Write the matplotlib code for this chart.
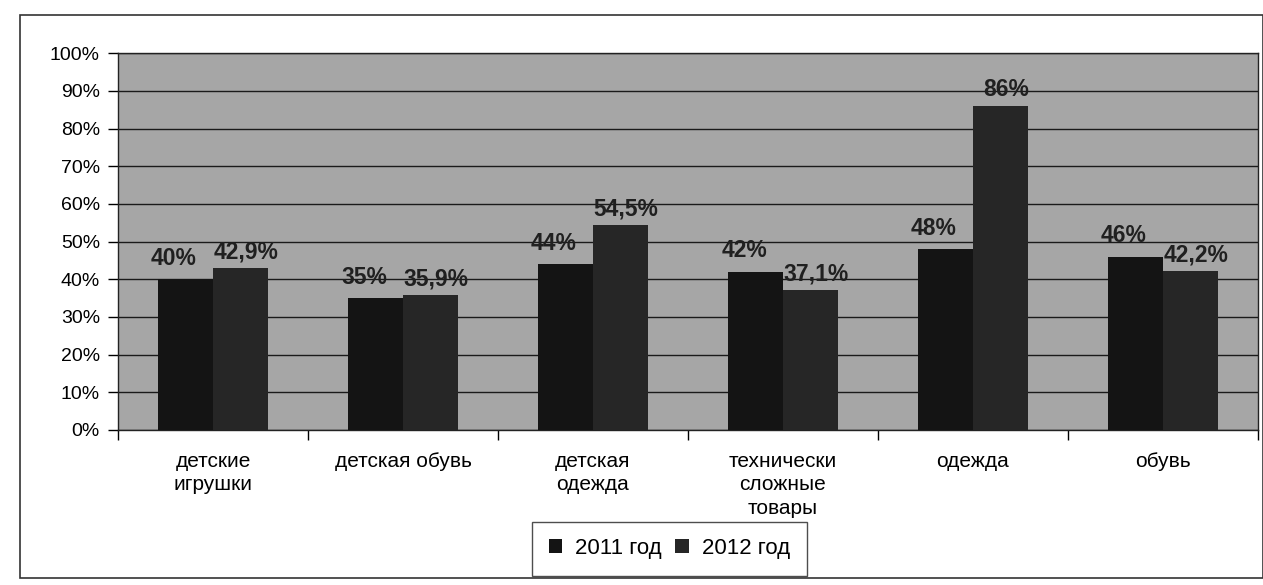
import matplotlib.pyplot as plt
import matplotlib.patches as patches
import numpy as np

categories = ["детские\nигрушки", "детская обувь", "детская\nодежда",
              "технически\nсложные\nтовары", "одежда", "обувь"]
vals_2011 = [40, 35, 44, 42, 48, 46]
vals_2012 = [42.9, 35.9, 54.5, 37.1, 86, 42.2]
labels_2011 = ["40%", "35%", "44%", "42%", "48%", "46%"]
labels_2012 = ["42,9%", "35,9%", "54,5%", "37,1%", "86%", "42,2%"]
yticks = [0, 10, 20, 30, 40, 50, 60, 70, 80, 90, 100]

plt.rcParams['font.family'] = ['Liberation Sans', 'DejaVu Sans']

fig = plt.figure(figsize=(12.63, 5.85), dpi=100)
ax = fig.add_axes([0.0934, 0.265, 0.9026, 0.644])
ax.set_facecolor('#a6a6a6')

x = np.arange(len(categories))
w = 0.29
b1 = ax.bar(x - w / 2, vals_2011, w, color='#141414', label='2011 год', zorder=3)
b2 = ax.bar(x + w / 2, vals_2012, w, color='#262626', label='2012 год', zorder=3)

for rect, lab in zip(b1, labels_2011):
    ax.text(rect.get_x() + rect.get_width() / 2 - 0.06, rect.get_height() + 2.5, lab,
            ha='center', va='bottom', fontsize=16.5, fontweight='bold', color='#202020', zorder=4)
for rect, lab in zip(b2, labels_2012):
    ax.text(rect.get_x() + rect.get_width() / 2 + 0.03, rect.get_height() + 1.2, lab,
            ha='center', va='bottom', fontsize=16.5, fontweight='bold', color='#202020', zorder=4)

ax.set_ylim(0, 100)
ax.set_xlim(-0.5, len(categories) - 0.5)
ax.set_yticks(yticks)
ax.set_yticklabels([f"{t}%" for t in yticks], fontsize=14)
ax.yaxis.grid(True, color='#1a1a1a', linewidth=1.0, zorder=1)
ax.tick_params(axis='y', length=7, width=1, pad=6)

ax.set_xticks(x)
ax.set_xticklabels(categories, fontsize=15, va='top', linespacing=1.28)
ax.tick_params(axis='x', which='major', length=0, pad=16)
ax.set_xticks(np.arange(-0.5, len(categories)), minor=True)
ax.tick_params(axis='x', which='minor', length=7, width=1)

for s in ax.spines.values():
    s.set_color('#222222')
    s.set_linewidth(1)

fig.legend(handles=[b1, b2], loc='center', bbox_to_anchor=(0.53, 0.062),
           ncol=2, fontsize=16, frameon=True, fancybox=False, edgecolor='#222222',
           handlelength=0.6, handleheight=0.6, handletextpad=0.6, columnspacing=0.6,
           borderpad=0.75, borderaxespad=0)

frame = patches.Rectangle((20 / 1263, 1 - 578 / 585), 1243 / 1263, 563 / 585,
                          transform=fig.transFigure, fill=False,
                          edgecolor='#333333', linewidth=1.2)
fig.patches.append(frame)

fig.savefig('out.png', dpi=100, facecolor='white')
